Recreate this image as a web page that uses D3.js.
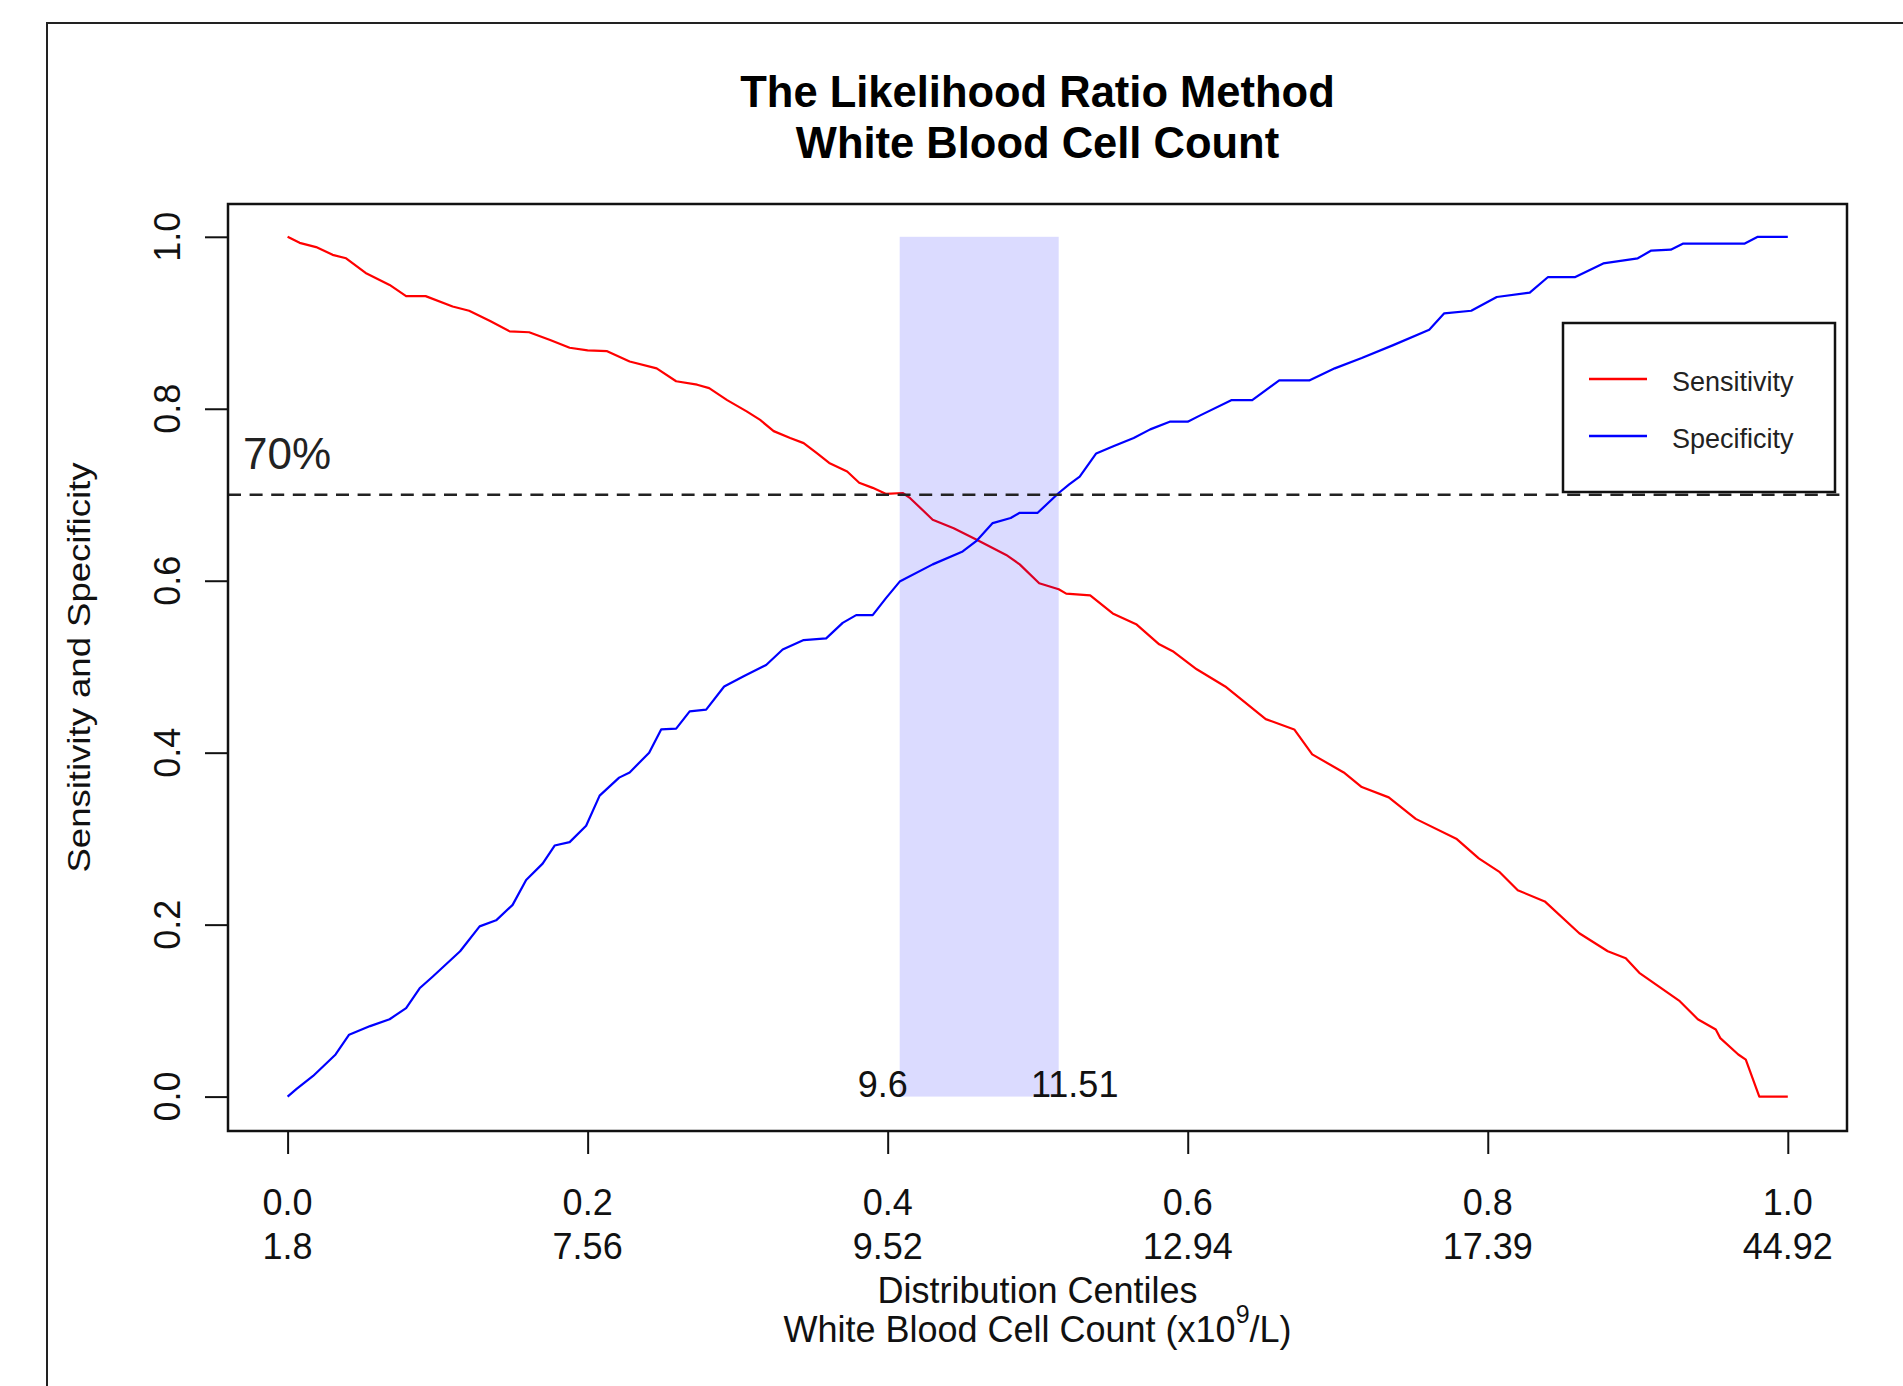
<!DOCTYPE html>
<html>
<head>
<meta charset="utf-8">
<script src="https://cdn.jsdelivr.net/npm/d3@7"></script>
<style>
  html, body { margin: 0; padding: 0; background: #ffffff; }
  svg { display: block; }
  text { font-family: "Liberation Sans", Arial, sans-serif; fill: #111; }
</style>
</head>
<body>
<svg id="chart" width="1903" height="1386"></svg>
<script>
// ---------------- data ----------------
const titleLines = ["The Likelihood Ratio Method", "White Blood Cell Count"];
const yAxisTitle = "Sensitivity and Specificity";
const xAxisTitle1 = "Distribution Centiles";
const xAxisTitle2 = ["White Blood Cell Count (x10", "9", "/L)"];

const centileTicks = [0, 0.2, 0.4, 0.6, 0.8, 1.0];
const centileLabels = ["0.0", "0.2", "0.4", "0.6", "0.8", "1.0"];
const wbcLabels = ["1.8", "7.56", "9.52", "12.94", "17.39", "44.92"];
const yTicks = [0, 0.2, 0.4, 0.6, 0.8, 1.0];
const yTickLabels = ["0.0", "0.2", "0.4", "0.6", "0.8", "1.0"];

const seriesNames = ["Sensitivity", "Specificity"];
const seriesColors = ["#ff0000", "#0000ff"];

const sensX = [0.000, 0.008, 0.019, 0.030, 0.039, 0.052, 0.068, 0.079, 0.092, 0.110,
  0.121, 0.135, 0.148, 0.161, 0.175, 0.188, 0.200, 0.213, 0.228, 0.246,
  0.259, 0.273, 0.281, 0.293, 0.306, 0.315, 0.324, 0.335, 0.344, 0.353,
  0.361, 0.373, 0.381, 0.390, 0.399, 0.410, 0.415, 0.430, 0.444, 0.459,
  0.479, 0.488, 0.501, 0.514, 0.519, 0.535, 0.550, 0.566, 0.581, 0.590,
  0.606, 0.625, 0.652, 0.671, 0.683, 0.704, 0.716, 0.734, 0.752, 0.779,
  0.794, 0.808, 0.820, 0.838, 0.861, 0.880, 0.892, 0.901, 0.928, 0.940,
  0.952, 0.955, 0.967, 0.972, 0.981, 1.000];
const sensY = [1.000, 0.993, 0.988, 0.979, 0.975, 0.958, 0.944, 0.931, 0.931, 0.919,
  0.914, 0.902, 0.890, 0.889, 0.880, 0.871, 0.868, 0.867, 0.855, 0.847,
  0.832, 0.828, 0.824, 0.810, 0.797, 0.787, 0.774, 0.766, 0.760, 0.748,
  0.737, 0.727, 0.714, 0.708, 0.701, 0.702, 0.696, 0.671, 0.661, 0.648,
  0.630, 0.619, 0.597, 0.590, 0.585, 0.583, 0.562, 0.549, 0.526, 0.518,
  0.497, 0.477, 0.439, 0.427, 0.398, 0.377, 0.360, 0.348, 0.323, 0.300,
  0.277, 0.261, 0.240, 0.227, 0.190, 0.169, 0.161, 0.144, 0.111, 0.090,
  0.078, 0.068, 0.049, 0.043, 0.000, 0.000];

const specX = [0.000, 0.006, 0.017, 0.032, 0.041, 0.055, 0.068, 0.079, 0.088, 0.097,
  0.115, 0.128, 0.139, 0.150, 0.159, 0.170, 0.178, 0.188, 0.199, 0.208,
  0.221, 0.228, 0.241, 0.249, 0.259, 0.268, 0.279, 0.291, 0.304, 0.319,
  0.330, 0.344, 0.359, 0.370, 0.379, 0.390, 0.399, 0.408, 0.430, 0.450,
  0.459, 0.470, 0.482, 0.488, 0.500, 0.514, 0.521, 0.528, 0.539, 0.550,
  0.564, 0.575, 0.588, 0.600, 0.608, 0.629, 0.643, 0.661, 0.681, 0.698,
  0.716, 0.737, 0.761, 0.771, 0.789, 0.806, 0.828, 0.840, 0.858, 0.877,
  0.900, 0.909, 0.922, 0.930, 0.971, 0.980, 1.000];
const specY = [0.000, 0.009, 0.024, 0.049, 0.072, 0.082, 0.090, 0.103, 0.126, 0.140,
  0.169, 0.198, 0.205, 0.223, 0.252, 0.271, 0.292, 0.296, 0.315, 0.350,
  0.371, 0.377, 0.400, 0.427, 0.428, 0.448, 0.450, 0.477, 0.489, 0.502,
  0.520, 0.531, 0.533, 0.551, 0.560, 0.560, 0.580, 0.599, 0.619, 0.634,
  0.646, 0.667, 0.673, 0.679, 0.679, 0.702, 0.712, 0.721, 0.748, 0.756,
  0.766, 0.776, 0.785, 0.785, 0.792, 0.810, 0.810, 0.833, 0.833, 0.847,
  0.859, 0.874, 0.892, 0.911, 0.914, 0.930, 0.935, 0.953, 0.953, 0.969,
  0.975, 0.984, 0.985, 0.992, 0.992, 1.000, 1.000];

const bandRange = [0.408, 0.514];
const bandLabels = ["9.6", "11.51"];
const threshold = 0.7;
const thresholdLabel = "70%";

// ---------------- layout ----------------
const svg = d3.select("#chart");
const box = { left: 228, top: 204, right: 1847, bottom: 1131 };

const x = d3.scaleLinear().domain([0, 1]).range([287.6, 1787.8]);
const y = d3.scaleLinear().domain([0, 1]).range([1096.6, 236.8]);

svg.append("rect").attr("width", 1903).attr("height", 1386).attr("fill", "#fff");

// outer frame (extends beyond the picture on right/bottom)
svg.append("rect")
  .attr("x", 47).attr("y", 23).attr("width", 2000).attr("height", 2000)
  .attr("fill", "none").attr("stroke", "#222").attr("stroke-width", 2);

// title
const cx = (box.left + box.right) / 2;
svg.append("text").attr("x", cx).attr("y", 107).attr("text-anchor", "middle")
  .attr("font-size", 43.5).attr("font-weight", "bold").style("fill", "#000").text(titleLines[0]);
svg.append("text").attr("x", cx).attr("y", 158).attr("text-anchor", "middle")
  .attr("font-size", 43.5).attr("font-weight", "bold").style("fill", "#000").text(titleLines[1]);

// curves
const sens = sensX.map((d, i) => [d, sensY[i]]);
const spec = specX.map((d, i) => [d, specY[i]]);
const line = d3.line().x(d => x(d[0])).y(d => y(d[1]));
const g = svg.append("g");
[sens, spec].forEach((s, i) => {
  g.append("path").datum(s).attr("d", line)
    .attr("fill", "none").attr("stroke", seriesColors[i])
    .attr("stroke-width", 2.2).attr("stroke-linejoin", "round");
});

// shaded band
g.append("rect")
  .attr("x", x(bandRange[0])).attr("y", y(1))
  .attr("width", x(bandRange[1]) - x(bandRange[0]))
  .attr("height", y(0) - y(1))
  .attr("fill", "#0000ff").attr("fill-opacity", 0.14);

// threshold line
g.append("line")
  .attr("x1", box.left).attr("x2", box.right)
  .attr("y1", y(threshold)).attr("y2", y(threshold))
  .attr("stroke", "#222").attr("stroke-width", 2.6)
  .attr("stroke-dasharray", "13,8.6");

g.append("text").attr("x", 243).attr("y", y(threshold) - 26)
  .attr("font-size", 44).style("fill", "#222").text(thresholdLabel);

// band labels
g.append("text").attr("x", x(bandRange[0]) - 17).attr("y", y(0))
  .attr("text-anchor", "middle").attr("font-size", 36).text(bandLabels[0]);
g.append("text").attr("x", x(bandRange[1]) + 16).attr("y", y(0))
  .attr("text-anchor", "middle").attr("font-size", 36).text(bandLabels[1]);

// plot box
svg.append("rect")
  .attr("x", box.left).attr("y", box.top)
  .attr("width", box.right - box.left).attr("height", box.bottom - box.top)
  .attr("fill", "none").attr("stroke", "#111").attr("stroke-width", 2.5);

// x axis
const xAxis = d3.axisBottom(x).tickValues(centileTicks).tickSize(23).tickFormat(() => "");
const xg = svg.append("g").attr("transform", `translate(0,${box.bottom})`).call(xAxis);
xg.select(".domain").remove();
xg.selectAll(".tick line").attr("stroke", "#111").attr("stroke-width", 2);
xg.selectAll(".tick text").remove();
centileTicks.forEach((t, i) => {
  svg.append("text").attr("x", x(t)).attr("y", 1215).attr("text-anchor", "middle")
    .attr("font-size", 36).text(centileLabels[i]);
  svg.append("text").attr("x", x(t)).attr("y", 1259).attr("text-anchor", "middle")
    .attr("font-size", 36).text(wbcLabels[i]);
});

// y axis
const yAxis = d3.axisLeft(y).tickValues(yTicks).tickSize(23).tickFormat(() => "");
const yg = svg.append("g").attr("transform", `translate(${box.left},0)`).call(yAxis);
yg.select(".domain").remove();
yg.selectAll(".tick line").attr("stroke", "#111").attr("stroke-width", 2);
yg.selectAll(".tick text").remove();
yTicks.forEach((t, i) => {
  svg.append("text")
    .attr("transform", `translate(180,${y(t)}) rotate(-90)`)
    .attr("text-anchor", "middle").attr("font-size", 36).text(yTickLabels[i]);
});

// axis titles
svg.append("text")
  .attr("transform", `translate(90,${(box.top + box.bottom) / 2}) rotate(-90)`)
  .attr("text-anchor", "middle").attr("font-size", 31)
  .attr("textLength", 410).attr("lengthAdjust", "spacingAndGlyphs")
  .text(yAxisTitle);

svg.append("text").attr("x", cx).attr("y", 1303).attr("text-anchor", "middle")
  .attr("font-size", 36).text(xAxisTitle1);
const t2 = svg.append("text").attr("x", cx).attr("y", 1342).attr("text-anchor", "middle")
  .attr("font-size", 36);
t2.append("tspan").text(xAxisTitle2[0]);
t2.append("tspan").attr("font-size", 25).attr("dy", -19).text(xAxisTitle2[1]);
t2.append("tspan").attr("dy", 19).text(xAxisTitle2[2]);

// legend
const lg = svg.append("g");
lg.append("rect").attr("x", 1563).attr("y", 323).attr("width", 272).attr("height", 169)
  .attr("fill", "#fff").attr("stroke", "#111").attr("stroke-width", 2.5);
seriesNames.forEach((name, i) => {
  const ly = 379 + i * 57;
  lg.append("line").attr("x1", 1589).attr("x2", 1647).attr("y1", ly).attr("y2", ly)
    .attr("stroke", seriesColors[i]).attr("stroke-width", 2.5);
  lg.append("text").attr("x", 1672).attr("y", ly + 12).attr("font-size", 27)
    .style("fill", "#222").text(name);
});
</script>
</body>
</html>
